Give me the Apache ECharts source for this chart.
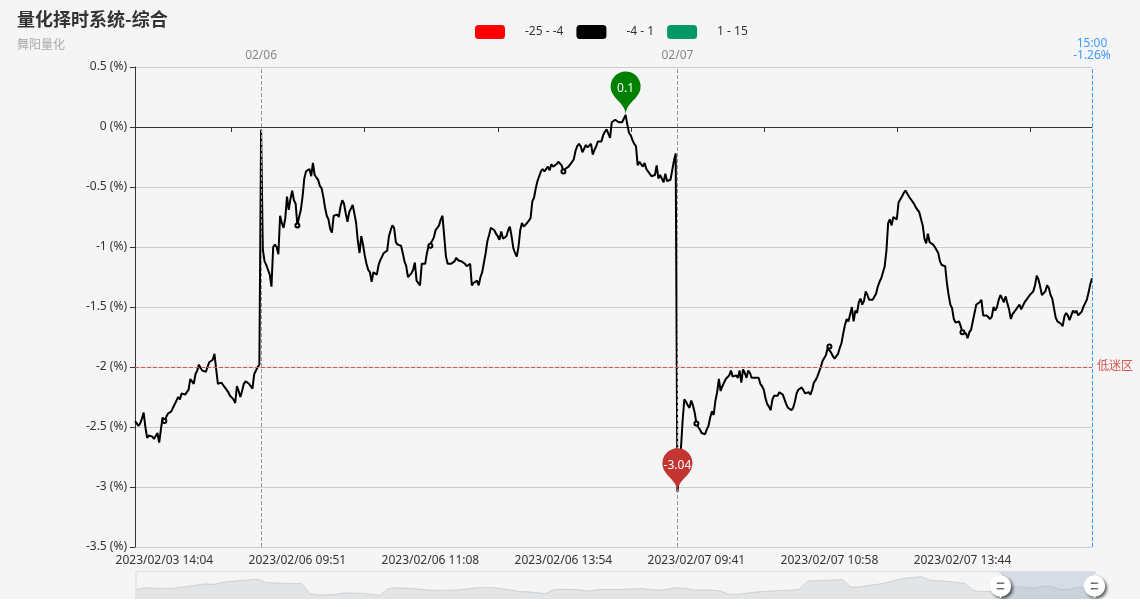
<!DOCTYPE html>
<html>
<head>
<meta charset="utf-8">
<script src="https://cdn.jsdelivr.net/npm/echarts@6/dist/echarts.min.js"></script>
<style>
html,body{margin:0;padding:0;background:#ffffff;}
#main{width:1140px;height:599px;}
</style>
</head>
<body>
<div id="main"></div>
<script>
// ---------- texts ----------
const titleText = '量化择时系统-综合';
const subtitleText = '舞阳量化';

// ---------- categories (trading minutes) ----------
const tradeDays = ['2023/02/03', '2023/02/06', '2023/02/07'];
const firstTime = '13:47';
const sessions = [['09:30', '11:30'], ['13:00', '14:59']];

// ---------- series values (%) ----------
const vals0203 = [
-2.45,-2.47,-2.49,-2.47,-2.43,-2.38,-2.50,-2.59,-2.57,-2.56,
-2.58,-2.60,-2.61,-2.55,-2.63,-2.52,-2.42,-2.45,-2.42,-2.39,
-2.38,-2.37,-2.34,-2.31,-2.28,-2.25,-2.27,-2.22,-2.22,-2.23,
-2.21,-2.19,-2.10,-2.12,-2.14,-2.06,-2.03,-1.98,-2.01,-2.03,
-2.03,-2.04,-2.00,-1.96,-1.95,-1.94,-1.89,-2.02,-2.14,-2.13,
-2.13,-2.15,-2.17,-2.17,-2.21,-2.24,-2.25,-2.27,-2.30,-2.16,
-2.20,-2.25,-2.20,-2.14,-2.12,-2.13,-2.14,-2.16,-2.18,-2.06,
-2.03,-2.00,-1.98
];
const vals0206 = [
-0.02,-1.02,-1.12,-1.15,-1.16,-1.23,-1.33,
-1.00,-0.98,-1.00,-1.06,-0.74,-0.80,-0.84,-0.76,-0.58,-0.69,
-0.60,-0.53,-0.61,-0.64,-0.82,-0.75,-0.69,-0.58,-0.43,-0.37,
-0.36,-0.35,-0.41,-0.30,-0.40,-0.41,-0.44,-0.49,-0.51,-0.58,
-0.67,-0.74,-0.77,-0.85,-0.88,-0.74,-0.73,-0.73,-0.75,-0.66,
-0.61,-0.64,-0.72,-0.79,-0.71,-0.68,-0.65,-0.72,-0.80,-0.95,
-1.05,-0.91,-0.98,-1.07,-1.14,-1.19,-1.21,-1.29,-1.21,-1.22,
-1.23,-1.15,-1.11,-1.08,-1.05,-1.04,-1.03,-0.91,-0.86,-0.82,
-0.84,-0.96,-0.98,-0.98,-0.99,-1.05,-1.12,-1.16,-1.25,-1.25,
-1.22,-1.19,-1.13,-1.28,-1.30,-1.32,-1.14,-1.14,-1.14,-1.05,
-0.99,-0.99,-0.95,-0.92,-0.86,-0.84,-0.82,-0.77,-0.74,-0.91,
-1.08,-1.14,-1.14,-1.14,-1.15,-1.12,-1.09,-1.11,-1.11,-1.12,
-1.13,-1.14,-1.16,-1.15,-1.14,-1.32,-1.30,-1.31,-1.28,-1.32,
-1.25,-1.21,-1.22,-1.05,-0.95,-0.90,-0.84,-0.85,-0.86,-0.89,
-0.91,-0.94,-0.87,-0.93,-0.92,-0.91,-0.86,-0.83,-0.91,-1.01,
-1.05,-1.08,-1.00,-0.86,-0.80,-0.83,-0.82,-0.80,-0.78,-0.76,
-0.62,-0.59,-0.51,-0.45,-0.41,-0.37,-0.35,-0.37,-0.38,-0.33,
-0.36,-0.31,-0.33,-0.34,-0.31,-0.29,-0.28,-0.32,-0.37,-0.35,
-0.34,-0.33,-0.32,-0.29,-0.27,-0.20,-0.16,-0.14,-0.16,-0.21,
-0.22,-0.15,-0.17,-0.18,-0.14,-0.23,-0.19,-0.16,-0.12,-0.13,
-0.12,-0.07,-0.04,-0.02,-0.01,-0.09,0.04,0.05,0.06,0.05,
0.04,0.04,0.04,0.07,0.10,0.02,-0.05,-0.07,-0.11,-0.14,
-0.16,-0.32,-0.29,-0.29,-0.33,-0.30,-0.35,-0.37,-0.39,-0.41,
-0.41,-0.40,-0.32,-0.43,-0.40,-0.39,-0.46,-0.39,-0.45,-0.46,
-0.44,-0.36,-0.28,-0.22
];
const vals0207 = [
-3.04,-2.90,-2.69,-2.45,-2.27,-2.29,
-2.32,-2.34,-2.28,-2.32,-2.38,-2.47,-2.50,-2.52,-2.55,-2.55,
-2.56,-2.52,-2.49,-2.42,-2.37,-2.40,-2.28,-2.21,-2.10,-2.20,
-2.16,-2.17,-2.10,-2.09,-2.07,-2.03,-2.08,-2.07,-2.07,-2.09,
-2.03,-2.13,-2.02,-2.05,-2.09,-2.03,-2.05,-2.09,-2.08,-2.09,
-2.10,-2.09,-2.14,-2.16,-2.19,-2.26,-2.31,-2.33,-2.36,-2.27,
-2.24,-2.23,-2.24,-2.21,-2.20,-2.23,-2.27,-2.31,-2.34,-2.34,
-2.36,-2.34,-2.29,-2.22,-2.19,-2.18,-2.17,-2.18,-2.22,-2.22,
-2.21,-2.23,-2.19,-2.13,-2.11,-2.08,-2.04,-2.00,-1.95,-1.94,
-1.90,-1.84,-1.83,-1.88,-1.91,-1.93,-1.91,-1.89,-1.84,-1.80,
-1.72,-1.65,-1.60,-1.62,-1.56,-1.50,-1.62,-1.53,-1.55,-1.46,
-1.43,-1.48,-1.45,-1.37,-1.40,-1.44,-1.45,-1.44,-1.44,-1.39,
-1.33,-1.29,-1.26,-1.21,-1.16,-1.03,-0.80,-0.77,-0.82,-0.75,
-0.76,-0.77,-0.63,-0.64,-0.58,-0.55,-0.53,-0.52,-0.58,-0.60,
-0.62,-0.64,-0.67,-0.69,-0.71,-0.72,-0.82,-0.93,-0.97,-0.89,
-0.96,-0.97,-0.98,-1.00,-1.00,-1.05,-1.12,-1.15,-1.15,-1.16,
-1.30,-1.40,-1.48,-1.51,-1.60,-1.63,-1.64,-1.62,-1.66,-1.71,
-1.71,-1.72,-1.76,-1.71,-1.69,-1.69,-1.55,-1.48,-1.47,-1.46,
-1.44,-1.57,-1.57,-1.57,-1.57,-1.60,-1.58,-1.50,-1.53,-1.50,
-1.44,-1.40,-1.43,-1.46,-1.41,-1.47,-1.52,-1.60,-1.56,-1.54,
-1.53,-1.50,-1.48,-1.52,-1.49,-1.46,-1.44,-1.43,-1.40,-1.39,
-1.37,-1.32,-1.24,-1.27,-1.33,-1.40,-1.41,-1.37,-1.32,-1.34,
-1.40,-1.43,-1.44,-1.59,-1.62,-1.63,-1.64,-1.66,-1.58,-1.55,
-1.57,-1.61,-1.57,-1.53,-1.55,-1.53,-1.57,-1.57,-1.54,-1.50,
-1.47,-1.44,-1.38,-1.31,-1.26
];

// overview (whole history, coarse) shown in the zoom slider
const overviewVals = [
-2.01,-1.05,-1.22,-1.45,-1.45,-0.94,-0.38,0.30,0.92,0.64,
1.77,2.17,2.62,2.96,3.30,1.60,1.38,1.21,1.04,1.04,
-4.16,-4.73,-4.73,-4.44,-3.71,-3.82,-3.99,-4.39,-5.01,-1.51,
-1.00,-1.34,-1.62,-2.01,-2.35,-2.35,-2.35,-2.18,-1.62,-1.05,
-0.94,-1.05,-1.62,-2.30,-3.03,-3.20,-3.60,-4.05,-2.01,-1.90,
-1.85,-2.30,-2.75,-2.01,-2.01,-2.01,-1.90,-1.62,-1.51,-1.96,
-2.35,-1.73,-1.05,-1.34,-2.35,-2.07,-2.30,-2.75,-4.44,-4.44,
-3.88,-3.31,-2.98,-2.75,-2.52,-2.35,-1.96,2.34,2.51,2.73,
2.90,3.18,-0.83,-0.55,0.08,0.64,1.49,2.62,3.75,4.14,
4.60,2.90,2.45,2.22,1.77,1.21,-2.47,-3.03,-3.03,
-2.45,-2.13,-0.35,-0.96,-1.22,-0.32,-0.32,-2.05,-1.88,-0.69,-1.41,-1.26
];
const zoomStart = 90;
const zoomEnd = 100;

// ---------- visual map pieces ----------
const pieceMins = [-25, -4, 1];
const pieceMaxs = [-4, 1, 15];
const pieceColors = ['#ff0000', '#000000', '#009966'];

// ---------- axis ----------
const yMin = -3.5, yMax = 0.5, yInterval = 0.5;
const labelStep = 77, labelOffset = 17, tickOffset = 56;

// ---------- reference lines ----------
const lowValue = -2;
const lowText = '低迷区';
const dayLineAt = ['2023/02/06 09:30', '2023/02/07 09:30'];
const dayLineText = ['02/06', '02/07'];
const closeText = '15:00';

// ---------- colours ----------
const lowColor = '#d9534f';
const dayColor = '#999999';
const dayTextColor = '#888888';
const closeColor = '#3d9bff';

// ---------- build ----------
function toMin(s) { const p = s.split(':'); return (+p[0]) * 60 + (+p[1]); }
function fmt(m) { return String(Math.floor(m / 60)).padStart(2, '0') + ':' + String(m % 60).padStart(2, '0'); }
const categories = [];
tradeDays.forEach(function (d, di) {
  sessions.forEach(function (s) {
    for (let m = toMin(s[0]); m <= toMin(s[1]); m++) {
      if (di === 0 && m < toMin(firstTime)) continue;
      categories.push(d + ' ' + fmt(m));
    }
  });
});
const values = vals0203.concat(vals0206, vals0207);
const lastValue = values[values.length - 1];
const overviewCats = overviewVals.map(function (_, i) { return i; });

const pieces = pieceMins.map(function (mn, i) { return { min: mn, max: pieceMaxs[i], color: pieceColors[i] }; });

const font = "'Noto Sans','Noto Sans CJK SC',sans-serif";
const titleFont = "'Noto Sans CJK SC','Noto Sans',sans-serif";

function guideSeries(name, color, items, labelColor) {
  return {
    name: name,
    type: 'line',
    xAxisIndex: 0,
    yAxisIndex: 0,
    data: [],
    color: color,
    symbol: 'none',
    silent: true,
    itemStyle: { color: color },
    lineStyle: { color: color },
    markLine: {
      symbol: 'none',
      silent: true,
      lineStyle: { color: color, type: 'dashed', width: 1 },
      itemStyle: { color: color },
      label: { position: 'end', color: labelColor || color, fontSize: 12 },
      emphasis: { disabled: true },
      data: items
    }
  };
}

const chart = echarts.init(document.getElementById('main'));
chart.setOption({
  animation: false,
  backgroundColor: '#f5f5f5',
  textStyle: { fontFamily: font },
  title: {
    text: titleText,
    subtext: subtitleText,
    left: 12,
    top: 5,
    textStyle: { fontSize: 18, fontWeight: 'bold', color: '#333', fontFamily: titleFont },
    subtextStyle: { fontSize: 12, color: '#aaa', fontFamily: titleFont }
  },
  visualMap: {
    type: 'piecewise',
    seriesIndex: 0,
    orient: 'horizontal',
    left: 460,
    top: 10,
    itemWidth: 30,
    itemHeight: 14,
    itemGap: 13,
    textGap: 20,
    pieces: pieces,
    textStyle: { color: '#333', fontSize: 12, fontFamily: font },
    outOfRange: { color: '#999' }
  },
  grid: [
    { left: 135, right: 48, top: 67, bottom: 52 },
    { left: 135, right: 48, top: 67, bottom: 52 }
  ],
  xAxis: [
    {
      type: 'category', gridIndex: 0, position: 'bottom', data: categories, boundaryGap: false,
      axisLine: { show: false, onZero: false },
      axisTick: { show: false },
      axisLabel: {
        color: '#333', fontSize: 12, margin: 8,
        interval: function (idx) { return idx % labelStep === labelOffset; }
      },
      splitLine: { show: false }
    },
    {
      type: 'category', gridIndex: 0, position: 'bottom', data: categories, boundaryGap: false,
      axisLine: { show: true, onZero: true, lineStyle: { color: '#333', width: 1 } },
      axisTick: { show: true, length: 5, lineStyle: { color: '#333' },
        interval: function (idx) { return idx % labelStep === tickOffset; } },
      axisLabel: { show: false },
      splitLine: { show: false }
    },
    {
      type: 'category', gridIndex: 1, data: overviewCats, boundaryGap: false, show: false
    }
  ],
  yAxis: [
    {
      type: 'value', gridIndex: 0, min: yMin, max: yMax, interval: yInterval,
      axisLine: { show: true, lineStyle: { color: '#333' } },
      axisTick: { show: true, lineStyle: { color: '#333' } },
      axisLabel: { formatter: '{value} (%)', color: '#333', fontSize: 12 },
      splitLine: { show: true, lineStyle: { color: '#ccc' } }
    },
    { type: 'value', gridIndex: 1, show: false, scale: true }
  ],
  dataZoom: [{
    type: 'slider',
    xAxisIndex: 2,
    start: zoomStart,
    end: zoomEnd,
    left: 133,
    right: 47,
    top: 571,
    height: 30,
    showDetail: false,
    brushSelect: false,
    moveHandleSize: 0,
    moveHandleStyle: { opacity: 0 },
    backgroundColor: 'rgba(47,69,84,0)',
    borderColor: '#ddd',
    fillerColor: 'rgba(167,183,204,0.4)',
    dataBackground: {
      lineStyle: { color: '#2f4554', width: 0.5, opacity: 0.3 },
      areaStyle: { color: 'rgba(47,69,84,0.3)', opacity: 0.3 }
    },
    selectedDataBackground: {
      lineStyle: { color: '#2f4554', width: 0.5, opacity: 0.3 },
      areaStyle: { color: 'rgba(47,69,84,0.3)', opacity: 0.3 }
    },
    handleIcon: 'path://M10.7,11.9v-1.3H9.3v1.3c-4.9,0.3-8.8,4.4-8.8,9.4c0,5,3.9,9.1,8.8,9.4v1.3h1.3v-1.3c4.9-0.3,8.8-4.4,8.8-9.4C19.5,16.3,15.6,12.2,10.7,11.9z M13.3,24.4H6.7V23h6.6V24.4z M13.3,19.6H6.7v-1.4h6.6V19.6z',
    handleSize: '80%',
    handleStyle: { color: '#fff', borderColor: '#aaa', borderWidth: 0, shadowBlur: 3, shadowColor: 'rgba(0,0,0,0.6)', shadowOffsetX: 2, shadowOffsetY: 2 },
    emphasis: { handleStyle: { color: '#fff', borderWidth: 0 } }
  }],
  series: [
    {
      name: 'main',
      type: 'line',
      xAxisIndex: 0,
      yAxisIndex: 0,
      data: values,
      symbol: 'emptyCircle',
      symbolSize: 4,
      lineStyle: { width: 2 },
      markPoint: {
        symbol: 'pin',
        symbolSize: 50,
        label: { color: '#fff', fontSize: 12 },
        data: [
          { type: 'max', name: 'max', itemStyle: { color: '#008000' } },
          { type: 'min', name: 'min', itemStyle: { color: '#c23531' } }
        ]
      }
    },
    {
      name: 'overview',
      type: 'line',
      xAxisIndex: 2,
      yAxisIndex: 1,
      data: overviewVals,
      symbol: 'none',
      silent: true,
      lineStyle: { opacity: 0 },
      z: 0
    },
    guideSeries('low', lowColor, [
      { yAxis: lowValue, label: { formatter: lowText } }
    ]),
    guideSeries('days', dayColor, [
      { xAxis: dayLineAt[0], label: { formatter: dayLineText[0] } },
      { xAxis: dayLineAt[1], label: { formatter: dayLineText[1] } }
    ], dayTextColor),
    guideSeries('close', closeColor, [
      { xAxis: categories[categories.length - 1],
        label: { formatter: closeText + '\n' + lastValue.toFixed(2) + '%', lineHeight: 12 } }
    ])
  ]
});
</script>
</body>
</html>
